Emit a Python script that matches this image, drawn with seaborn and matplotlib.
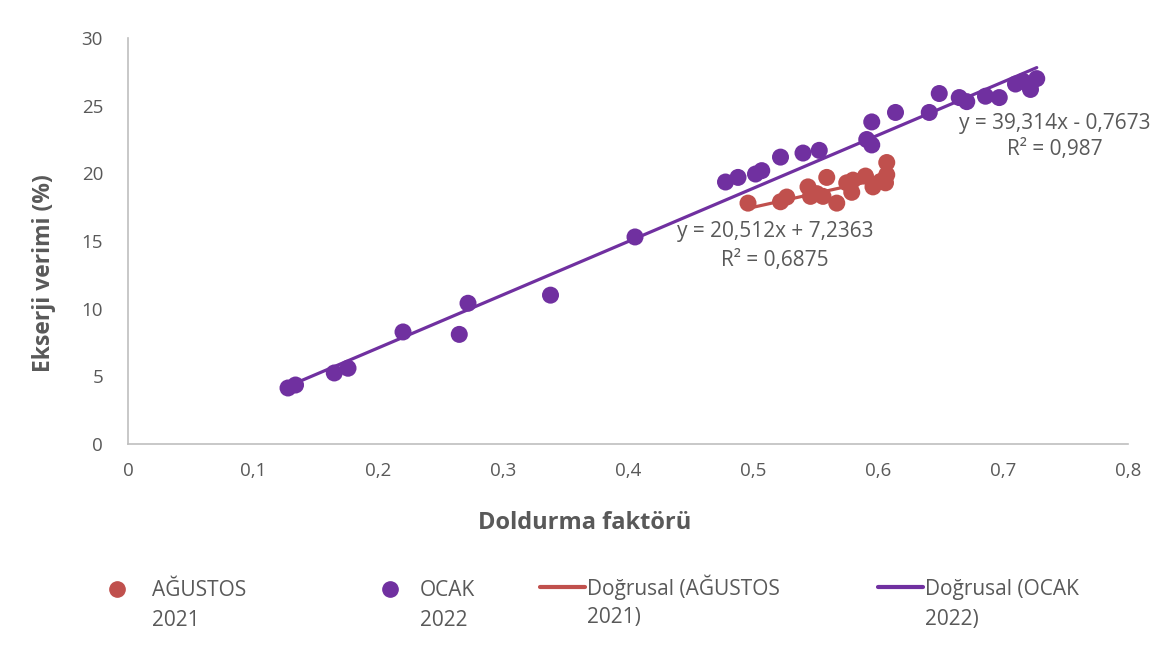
import matplotlib.pyplot as plt
import numpy as np
import seaborn as sns
from matplotlib.lines import Line2D

# AĞUSTOS 2021 measurements
agustos_x = [0.496, 0.522, 0.527, 0.544, 0.546, 0.551, 0.556, 0.559, 0.567, 0.575,
             0.579, 0.580, 0.590, 0.596, 0.602, 0.606, 0.607, 0.607]
agustos_y = [17.8, 17.9, 18.25, 19.0, 18.3, 18.5, 18.3, 19.7, 17.8, 19.3,
             18.6, 19.5, 19.8, 19.0, 19.4, 19.3, 19.9, 20.8]

# OCAK 2022 measurements
ocak_x = [0.128, 0.134, 0.165, 0.176, 0.220, 0.265, 0.272, 0.338, 0.4056, 0.478,
          0.488, 0.502, 0.507, 0.522, 0.540, 0.553, 0.591, 0.595, 0.595, 0.614,
          0.641, 0.649, 0.665, 0.671, 0.686, 0.697, 0.710, 0.716, 0.722, 0.727]
ocak_y = [4.14, 4.36, 5.25, 5.6, 8.28, 8.1, 10.4, 11.0, 15.3, 19.36,
          19.7, 19.95, 20.2, 21.2, 21.5, 21.7, 22.5, 22.1, 23.8, 24.5,
          24.5, 25.9, 25.6, 25.3, 25.7, 25.6, 26.6, 26.8, 26.2, 27.0]

# trendline coefficients (slope, intercept) as printed on the chart
agustos_fit = (20.512, 7.2363)
ocak_fit = (39.314, -0.7673)
agustos_label = "y = 20,512x + 7,2363\nR² = 0,6875"
ocak_label = "y = 39,314x - 0,7673\nR² = 0,987"

xtick_labels = ["0", "0,1", "0,2", "0,3", "0,4", "0,5", "0,6", "0,7", "0,8"]
legend_first = ["AĞUSTOS", "OCAK", "Doğrusal (AĞUSTOS", "Doğrusal (OCAK"]
legend_second = ["2021", "2022", "2021)", "2022)"]

red = "#C0504D"
purple = "#7030A0"
gray = "#595959"
W, H = 1166, 650

sns.set_theme(style="white")
plt.rcParams['font.family'] = ['Open Sans', 'DejaVu Sans']

fig = plt.figure(figsize=(W / 100, H / 100), dpi=100)
ax = fig.add_axes([0.1098, 0.3169, 0.8576, 0.6246])

sns.scatterplot(x=agustos_x, y=agustos_y, color=red, s=150, edgecolor="none", ax=ax, zorder=3)
sns.scatterplot(x=ocak_x, y=ocak_y, color=purple, s=150, edgecolor="none", ax=ax, zorder=3)

# linear trendlines over the data range
for xs, fit, col in [(agustos_x, agustos_fit, red), (ocak_x, ocak_fit, purple)]:
    tx = np.array([min(xs), max(xs)])
    sns.lineplot(x=tx, y=fit[0] * tx + fit[1], color=col, linewidth=2.3, ax=ax, zorder=4)

ax.text(0.5176, 14.63, agustos_label, ha="center", va="center", fontsize=15,
        color=gray, linespacing=1.45)
ax.text(0.7416, 22.73, ocak_label, ha="center", va="center", fontsize=15,
        color=gray, linespacing=1.35)

ax.set_xlim(0, 0.8)
ax.set_ylim(0, 30)
ax.set_xticks(np.arange(0, 0.81, 0.1))
ax.set_xticklabels(xtick_labels)
ax.set_yticks(range(0, 31, 5))
ax.tick_params(axis="both", labelsize=13.5, colors=gray, length=0)
ax.tick_params(axis="x", pad=13)
ax.tick_params(axis="y", pad=18)

sns.despine(ax=ax)
for sp in ["left", "bottom"]:
    ax.spines[sp].set_color("#BFBFBF")
    ax.spines[sp].set_linewidth(1.2)

ax.set_xlabel("Doldurma faktörü", fontsize=17, fontweight="bold", color=gray)
ax.set_ylabel("Ekserji verimi (%)", fontsize=16.5, fontweight="bold", color=gray)
ax.xaxis.label.set_verticalalignment("center")
ax.yaxis.label.set_verticalalignment("center")
ax.xaxis.set_label_coords(0.457, -0.195)
ax.yaxis.set_label_coords(-0.084, 0.42)

# one legend per entry so each sits where the original has it;
# the wrapped second line of each label goes right under the first
handles = [
    Line2D([], [], marker="o", linestyle="none", color=red, markersize=11),
    Line2D([], [], marker="o", linestyle="none", color=purple, markersize=11),
    Line2D([], [], color=red, linewidth=3),
    Line2D([], [], color=purple, linewidth=3),
]
starts = [107, 380, 540, 878]
rows = [591, 591, 587, 589]
hlen = [1.0, 1.0, 2.16, 2.16]
hpad = [1.16, 0.92, 0.1, 0.1]
legends = []
for h, lab, x0, y0, hl, hp in zip(handles, legend_first, starts, rows, hlen, hpad):
    leg = fig.legend([h], [lab], loc="center left", bbox_to_anchor=(x0 / W, 1 - y0 / H),
                     frameon=False, fontsize=15, labelcolor=gray, handlelength=hl,
                     handletextpad=hp, borderpad=0, borderaxespad=0)
    legends.append(leg)

fig.canvas.draw()
renderer = fig.canvas.get_renderer()
for leg, second in zip(legends, legend_second):
    bb = leg.get_texts()[0].get_window_extent(renderer)
    fig.text(bb.x0 / W, (bb.y0 + bb.height / 2 - 30) / H, second, fontsize=15,
             color=gray, ha="left", va="center")

plt.savefig("out.png", dpi=100)
